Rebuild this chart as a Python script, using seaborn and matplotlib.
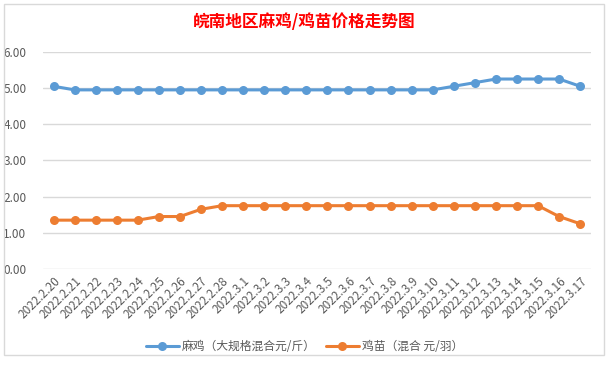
import pandas as pd
import matplotlib
matplotlib.use("Agg")
import matplotlib.pyplot as plt
import matplotlib.transforms as mtrans
import seaborn as sns
from matplotlib.patches import Rectangle

dates = ["2022.2.20", "2022.2.21", "2022.2.22", "2022.2.23", "2022.2.24",
         "2022.2.25", "2022.2.26", "2022.2.27", "2022.2.28",
         "2022.3.1", "2022.3.2", "2022.3.3", "2022.3.4", "2022.3.5",
         "2022.3.6", "2022.3.7", "2022.3.8", "2022.3.9", "2022.3.10",
         "2022.3.11", "2022.3.12", "2022.3.13", "2022.3.14", "2022.3.15",
         "2022.3.16", "2022.3.17"]
maji = [5.05, 4.95, 4.95, 4.95, 4.95, 4.95, 4.95, 4.95, 4.95,
        4.95, 4.95, 4.95, 4.95, 4.95, 4.95, 4.95, 4.95, 4.95, 4.95,
        5.05, 5.15, 5.25, 5.25, 5.25, 5.25, 5.05]
jimiao = [1.35, 1.35, 1.35, 1.35, 1.35, 1.45, 1.45, 1.65, 1.75,
          1.75, 1.75, 1.75, 1.75, 1.75, 1.75, 1.75, 1.75, 1.75, 1.75,
          1.75, 1.75, 1.75, 1.75, 1.75, 1.45, 1.25]
series_names = ["麻鸡（大规格混合元/斤）", "鸡苗（混合 元/羽）"]
title = "皖南地区麻鸡/鸡苗价格走势图"

df = pd.concat([
    pd.DataFrame({"date": dates, "price": maji, "series": series_names[0]}),
    pd.DataFrame({"date": dates, "price": jimiao, "series": series_names[1]}),
])

sns.set_theme(style="white")
plt.rcParams["font.family"] = ["Noto Sans CJK SC", "DejaVu Sans"]

fig = plt.figure(figsize=(6.09, 3.68), dpi=100)
ax = fig.add_axes([0.0706, 0.269, 0.8994, 0.59])

palette = {series_names[0]: "#5B9BD5", series_names[1]: "#ED7D31"}
sns.lineplot(data=df, x="date", y="price", hue="series", palette=palette,
             marker="o", markersize=6.5, markeredgewidth=0, linewidth=2.2,
             sort=False, ax=ax)

ax.set_xlim(-0.5, len(dates) - 0.5)
ax.set_ylim(0, 6)
ax.set_yticks([0, 1, 2, 3, 4, 5, 6])
ax.set_yticklabels([f"{v:.2f}" for v in range(7)], fontsize=8.5, color="#595959")
ax.set_xticks(range(len(dates)))
ax.set_xticklabels(dates, rotation=45, ha="right", rotation_mode="anchor",
                   fontsize=8.5, color="#595959")
shift = mtrans.ScaledTranslation(6 / 72, -4 / 72, fig.dpi_scale_trans)
for lbl in ax.get_xticklabels():
    lbl.set_transform(lbl.get_transform() + shift)
ax.tick_params(axis="both", length=0, pad=4)
ax.tick_params(axis="y", pad=12)
ax.grid(axis="y", color="#D9D9D9", linewidth=1)
ax.set_axisbelow(True)
for s in ax.spines.values():
    s.set_visible(False)
ax.set_xlabel("")
ax.set_ylabel("")

handles, labels = ax.get_legend_handles_labels()
ax.legend(handles, labels, loc="center", bbox_to_anchor=(0.5, 0.058),
          bbox_transform=fig.transFigure, ncol=2, frameon=False,
          fontsize=8.5, labelcolor="#595959", handlelength=2.8,
          columnspacing=0.8, handletextpad=0.3)

fig.text(0.5, 0.94, title, ha="center", va="center", fontsize=12,
         fontweight="bold", color="#FF0000")

fig.patches.append(Rectangle((0.006, 0.035), 0.985, 0.955, transform=fig.transFigure,
                             fill=False, edgecolor="#D9D9D9", linewidth=1))

fig.savefig("out.png", dpi=100)
